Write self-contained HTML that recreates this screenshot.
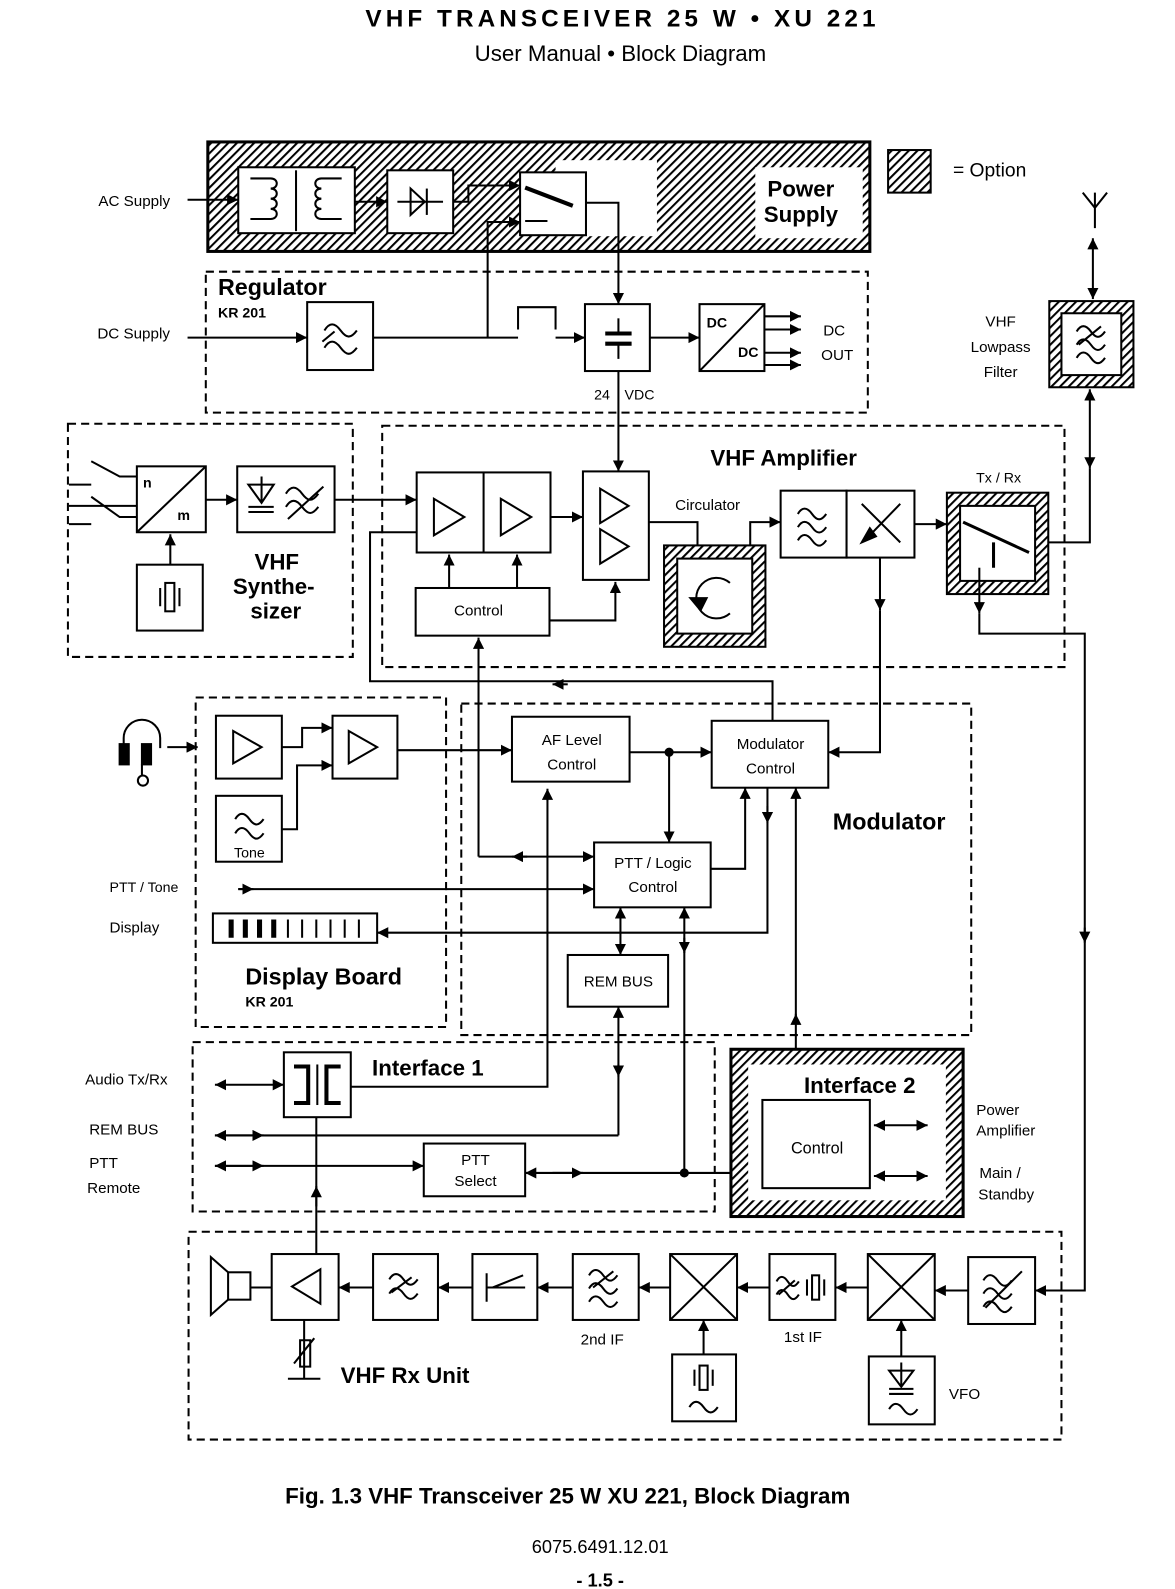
<!DOCTYPE html>
<html><head><meta charset="utf-8"><style>
html,body{margin:0;padding:0;background:#fff;}
svg{display:block;}
text{font-family:"Liberation Sans",sans-serif;fill:#000;}
.b{font-weight:bold;}
</style></head><body>
<svg width="1175" height="1589" viewBox="0 0 1159 1567.4" preserveAspectRatio="none" xmlns="http://www.w3.org/2000/svg">
<defs>
<pattern id="h" width="6" height="6" patternUnits="userSpaceOnUse" patternTransform="rotate(45)">
<rect width="6" height="6" fill="#fff"/><rect width="2" height="6" fill="#000"/></pattern>
<marker id="a" viewBox="0 0 10 10" refX="10" refY="5" markerWidth="11" markerHeight="11" markerUnits="userSpaceOnUse" orient="auto-start-reverse"><path d="M0,0L10,5L0,10z" fill="#000"/></marker>
</defs>
<g stroke="#000" stroke-width="2" fill="none">
<!-- Power supply -->
<rect x="205" y="140" width="653" height="108" fill="url(#h)" stroke-width="3"/>
<rect x="548" y="158" width="100" height="75" fill="#fff" stroke="none"/>
<rect x="745" y="165" width="106" height="70" fill="#fff" stroke="none"/>
<rect x="235" y="165" width="115" height="65" fill="#fff"/>
<line x1="292" y1="168" x2="292" y2="228"/>
<path d="M247,176h20c8,0 8,10 0,10c8,0 8,10 0,10c8,0 8,10 0,10c8,0 8,10 0,10h-20"/>
<path d="M337,176h-20c-8,0 -8,10 0,10c-8,0 -8,10 0,10c-8,0 -8,10 0,10c-8,0 -8,10 0,10h20"/>
<rect x="382" y="168" width="65" height="62" fill="#fff"/>
<line x1="392" y1="199" x2="437" y2="199"/><path d="M405,186v26l14,-13z"/><line x1="421" y1="186" x2="421" y2="212"/>
<rect x="513" y="170" width="65" height="62" fill="#fff"/>
<line x1="518" y1="185" x2="565" y2="203" stroke-width="4"/>
<line x1="518" y1="218" x2="540" y2="218"/>
<rect x="876" y="148" width="42" height="42" fill="url(#h)"/>
<!-- Regulator -->
<rect x="203" y="268" width="653" height="139" stroke-dasharray="8,5"/>
<rect x="303" y="298" width="65" height="67"/>
<path d="M320,326c5,-8 10,-8 16,0s10,8 16,0M318,337l12,-10M320,343c5,-8 10,-8 16,0s10,8 16,0"/>
<rect x="577" y="300" width="64" height="66"/>
<line x1="597" y1="329" x2="623" y2="329" stroke-width="4"/><line x1="597" y1="339" x2="623" y2="339" stroke-width="4"/>
<line x1="610" y1="314" x2="610" y2="329"/><line x1="610" y1="339" x2="610" y2="354"/>
<rect x="690" y="300" width="64" height="66"/><line x1="690" y1="366" x2="754" y2="300"/>
<path d="M185,197H235" marker-end="url(#a)"/>
<path d="M350,199H382" marker-end="url(#a)"/>
<path d="M447,199H462V183H513" marker-end="url(#a)"/>
<path d="M481,333V219H513" marker-end="url(#a)"/>
<path d="M578,200H610V300" marker-end="url(#a)"/>
<path d="M185,333H303" marker-end="url(#a)"/>
<path d="M368,333H511"/>
<path d="M511,325V303H548V325"/>
<path d="M548,333H577" marker-end="url(#a)"/>
<path d="M641,333H690" marker-end="url(#a)"/>
<path d="M754,312H790" marker-end="url(#a)"/><path d="M754,325H790" marker-end="url(#a)"/>
<path d="M754,348H790" marker-end="url(#a)"/><path d="M754,360H790" marker-end="url(#a)"/>
<path d="M610,366V465" marker-end="url(#a)"/>
<!-- antenna / lowpass -->
<path d="M1068,190L1080,205L1092,190M1080,190V225"/>
<path d="M1078,235V295" marker-start="url(#a)" marker-end="url(#a)"/>
<rect x="1035" y="297" width="83" height="85" fill="url(#h)"/><rect x="1047" y="309" width="59" height="61" fill="#fff"/>
<path d="M1062,327c4,-7 9,-7 14,0s9,7 14,0M1062,340c4,-7 9,-7 14,0s9,7 14,0M1062,353c4,-7 9,-7 14,0s9,7 14,0M1064,340l22,-18"/>
<path d="M1075,384V462" marker-start="url(#a)" marker-end="url(#a)"/>
<path d="M1075,462V535H1034"/>
<!-- Synth -->
<rect x="67" y="418" width="281" height="230" stroke-dasharray="8,5"/>
<rect x="135" y="460" width="68" height="65"/><line x1="135" y1="525" x2="203" y2="460"/>
<path d="M68,478H90M90,455L118,470H135M68,499H90L118,499H135M68,517H90M90,490L118,510H135" stroke-width="2"/>
<rect x="234" y="460" width="96" height="65"/>
<path d="M245,478h25l-12,18z M245,500h25 M245,505h25 M258,470v26"/>
<path d="M282,487c5,-8 10,-8 16,0s10,8 16,0M282,500c5,-8 10,-8 16,0s10,8 16,0M284,512l35,-32"/>
<rect x="135" y="557" width="65" height="65"/>
<rect x="163" y="575" width="9" height="28"/><line x1="158" y1="580" x2="158" y2="598"/><line x1="177" y1="580" x2="177" y2="598"/>
<path d="M168,557V527" marker-end="url(#a)"/>
<path d="M203,493H234" marker-end="url(#a)"/>
<path d="M330,493H411" marker-end="url(#a)"/>
<!-- VHF Amp -->
<rect x="377" y="420" width="673" height="238" stroke-dasharray="8,5"/>
<rect x="411" y="466" width="132" height="79"/><line x1="477" y1="466" x2="477" y2="545"/>
<path d="M428,492v36l30,-18z M494,492v36l30,-18z"/>
<rect x="575" y="465" width="65" height="107"/>
<path d="M592,482v34l28,-17z M592,522v34l28,-17z"/>
<rect x="410" y="580" width="132" height="47"/>
<path d="M443,580V547" marker-end="url(#a)"/><path d="M510,580V547" marker-end="url(#a)"/>
<path d="M542,612H607V574" marker-end="url(#a)"/>
<path d="M543,510H575" marker-end="url(#a)"/>
<path d="M411,525H365V672H762V711"/>
<path d="M560,675H545" marker-end="url(#a)"/>
<rect x="655" y="538" width="100" height="100" fill="url(#h)"/><rect x="668" y="551" width="74" height="74" fill="#fff"/>
<path d="M720,605a20,20 0 1 1 0,-30"/><path d="M681,590l10,12l6,-12z" fill="#000"/>
<path d="M640,515H688V538"/>
<path d="M740,538V515H770" marker-end="url(#a)"/>
<rect x="770" y="484" width="65" height="66"/>
<path d="M787,507c4,-7 9,-7 14,0s9,7 14,0M787,520c4,-7 9,-7 14,0s9,7 14,0M787,533c4,-7 9,-7 14,0s9,7 14,0"/>
<rect x="835" y="484" width="67" height="66"/>
<path d="M850,497L888,535M888,497L856,530"/><path d="M850,535l8,-14l6,8z" fill="#000"/>
<path d="M902,517H934" marker-end="url(#a)"/>
<path d="M868,550V602" marker-end="url(#a)"/>
<path d="M868,602V742H817" marker-end="url(#a)"/>
<rect x="934" y="486" width="100" height="100" fill="url(#h)"/><rect x="947" y="499" width="74" height="74" fill="#fff"/>
<path d="M950,515L1015,545M980,535V560" stroke-width="3"/>
<path d="M966,560V605" marker-end="url(#a)"/>
<path d="M966,605V625H1070V930"/>
<path d="M1070,915V930" marker-end="url(#a)"/>
<path d="M1070,930V1273H1021" marker-end="url(#a)"/>
<!-- Audio/Display -->
<rect x="193" y="688" width="247" height="325" stroke-dasharray="8,5"/>
<rect x="213" y="706" width="65" height="62"/><path d="M230,721v32l28,-16z"/>
<rect x="328" y="706" width="64" height="62"/><path d="M344,721v32l28,-16z"/>
<rect x="213" y="785" width="65" height="65"/>
<path d="M232,808c4,-7 9,-7 14,0s9,7 14,0M232,822c4,-7 9,-7 14,0s9,7 14,0"/>
<path d="M122,738v-10a18,18 0 0 1 36,0v10"/>
<rect x="118" y="734" width="9" height="20" fill="#000"/><rect x="140" y="734" width="9" height="20" fill="#000"/>
<path d="M140,754V765"/><circle cx="141" cy="770" r="5"/>
<path d="M165,737H195" marker-end="url(#a)"/>
<path d="M278,737H298V718H328" marker-end="url(#a)"/>
<path d="M278,818H293V755H328" marker-end="url(#a)"/>
<path d="M392,740H505" marker-end="url(#a)"/>
<path d="M235,877H586" marker-end="url(#a)"/>
<path d="M235,877H250" marker-end="url(#a)"/>
<rect x="210" y="901" width="162" height="29"/>
<g stroke-width="5"><line x1="228" y1="907" x2="228" y2="925"/><line x1="242" y1="907" x2="242" y2="925"/><line x1="256" y1="907" x2="256" y2="925"/><line x1="270" y1="907" x2="270" y2="925"/></g>
<g stroke-width="2"><line x1="284" y1="907" x2="284" y2="925"/><line x1="298" y1="907" x2="298" y2="925"/><line x1="312" y1="907" x2="312" y2="925"/><line x1="326" y1="907" x2="326" y2="925"/><line x1="340" y1="907" x2="340" y2="925"/><line x1="354" y1="907" x2="354" y2="925"/></g>
<!-- Modulator -->
<rect x="455" y="694" width="503" height="327" stroke-dasharray="8,5"/>
<rect x="505" y="707" width="116" height="64"/>
<rect x="702" y="711" width="115" height="66"/>
<rect x="586" y="831" width="115" height="64"/>
<rect x="560" y="942" width="99" height="51"/>
<path d="M472,629V845" marker-start="url(#a)"/>
<path d="M472,845H586" marker-end="url(#a)"/>
<path d="M520,845H505" marker-end="url(#a)"/>
<path d="M621,742H702" marker-end="url(#a)"/>
<circle cx="660" cy="742" r="3.5" fill="#000"/>
<path d="M660,742V831" marker-end="url(#a)"/>
<path d="M701,857H735V777" marker-end="url(#a)"/>
<path d="M757,777V920H372" marker-end="url(#a)"/>
<path d="M757,795V812" marker-end="url(#a)"/>
<path d="M785,777V1085" marker-start="url(#a)" marker-end="url(#a)"/>
<path d="M785,1010V1000" marker-end="url(#a)"/>
<path d="M612,895V942" marker-start="url(#a)" marker-end="url(#a)"/>
<path d="M675,895V1157" marker-start="url(#a)"/>
<path d="M675,925V940" marker-end="url(#a)"/>
<path d="M610,993V1120" marker-start="url(#a)"/>
<path d="M610,1050V1062" marker-end="url(#a)"/>
<path d="M540,780V1072H346"/>
<path d="M540,790V778" marker-end="url(#a)"/>
<!-- Interface 1 -->
<rect x="190" y="1028" width="515" height="167" stroke-dasharray="8,5"/>
<rect x="280" y="1038" width="66" height="64"/>
<path d="M290,1052h14v36h-14M336,1052h-14v36h14" stroke-width="4"/><line x1="313" y1="1050" x2="313" y2="1090"/>
<rect x="418" y="1128" width="100" height="52"/>
<path d="M212,1070H280" marker-start="url(#a)" marker-end="url(#a)"/>
<path d="M212,1120H610" marker-start="url(#a)"/>
<path d="M212,1120H260" marker-end="url(#a)"/>
<path d="M212,1150H418" marker-start="url(#a)" marker-end="url(#a)"/>
<path d="M212,1150H260" marker-end="url(#a)"/>
<path d="M518,1157H752" marker-start="url(#a)"/>
<path d="M545,1157H575" marker-end="url(#a)"/>
<circle cx="675" cy="1157" r="3.5" fill="#000"/>
<!-- Interface 2 -->
<rect x="721" y="1035" width="229" height="165" fill="url(#h)" stroke-width="3"/>
<rect x="738" y="1050" width="195" height="134" fill="#fff" stroke="none"/>
<rect x="752" y="1085" width="106" height="87" fill="#fff"/>
<path d="M862,1110H915" marker-start="url(#a)" marker-end="url(#a)"/>
<path d="M862,1160H915" marker-start="url(#a)" marker-end="url(#a)"/>
<!-- Rx -->
<rect x="186" y="1215" width="861" height="205" stroke-dasharray="8,5"/>
<path d="M312,1102V1237"/><path d="M312,1190V1170" marker-end="url(#a)"/>
<rect x="225" y="1255" width="22" height="27"/><path d="M225,1255L208,1240V1297L225,1282"/>
<rect x="268" y="1237" width="66" height="65"/><path d="M316,1252v34l-28,-17z"/>
<rect x="368" y="1237" width="64" height="65"/>
<path d="M384,1262c4,-7 9,-7 14,0s9,7 14,0M384,1276c4,-7 9,-7 14,0s9,7 14,0M386,1275l20,-15"/>
<rect x="466" y="1237" width="64" height="65"/><path d="M480,1256v28M480,1270h38M486,1270l30,-12"/>
<rect x="565" y="1237" width="65" height="65"/>
<path d="M581,1258c4,-7 9,-7 14,0s9,7 14,0M581,1271c4,-7 9,-7 14,0s9,7 14,0M581,1284c4,-7 9,-7 14,0s9,7 14,0M585,1270l20,-16"/>
<rect x="661" y="1237" width="66" height="65"/><path d="M661,1237L727,1302M727,1237L661,1302"/>
<rect x="759" y="1237" width="65" height="65"/>
<path d="M766,1264c3,-6 7,-6 11,0s7,6 11,0M766,1277c3,-6 7,-6 11,0s7,6 11,0M768,1277l16,-14"/><rect x="801" y="1258" width="7" height="24"/><line x1="796" y1="1262" x2="796" y2="1278"/><line x1="813" y1="1262" x2="813" y2="1278"/>
<rect x="856" y="1237" width="66" height="65"/><path d="M856,1237L922,1302M922,1237L856,1302"/>
<rect x="955" y="1240" width="66" height="66"/>
<path d="M970,1263c4,-7 9,-7 14,0s9,7 14,0M970,1276c4,-7 9,-7 14,0s9,7 14,0M970,1289c4,-7 9,-7 14,0s9,7 14,0M972,1290l36,-36"/>
<path d="M955,1273H922" marker-end="url(#a)"/>
<path d="M856,1270H824" marker-end="url(#a)"/>
<path d="M759,1270H727" marker-end="url(#a)"/>
<path d="M661,1270H630" marker-end="url(#a)"/>
<path d="M565,1270H530" marker-end="url(#a)"/>
<path d="M466,1270H432" marker-end="url(#a)"/>
<path d="M368,1270H334" marker-end="url(#a)"/>
<path d="M268,1270H247"/>
<rect x="663" y="1336" width="63" height="66"/>
<rect x="690" y="1347" width="8" height="24"/><line x1="685" y1="1351" x2="685" y2="1367"/><line x1="703" y1="1351" x2="703" y2="1367"/>
<path d="M680,1388c4,-7 9,-7 14,0s9,7 14,0"/>
<path d="M694,1336V1302" marker-end="url(#a)"/>
<rect x="857" y="1338" width="65" height="67"/>
<path d="M877,1352h24l-12,16z M877,1370h24 M877,1375h24 M889,1344v24"/>
<path d="M877,1390c4,-7 9,-7 14,0s9,7 14,0"/>
<path d="M889,1338V1302" marker-end="url(#a)"/>
<path d="M300,1302V1360M284,1360h32M290,1345l20,-25M296,1322v26h10v-26z"/>
</g>
<!-- text -->
<text x="614" y="26" text-anchor="middle" class="b" font-size="24" letter-spacing="4">VHF TRANSCEIVER 25 W • XU 221</text>
<text x="612" y="60" text-anchor="middle" font-size="22">User Manual • Block Diagram</text>
<text x="790" y="194" text-anchor="middle" class="b" font-size="22">Power</text>
<text x="790" y="219" text-anchor="middle" class="b" font-size="22">Supply</text>
<text x="940" y="174" font-size="19">= Option</text>
<text x="97" y="203" font-size="15">AC Supply</text>
<text x="96" y="334" font-size="15">DC Supply</text>
<text x="215" y="291" class="b" font-size="23">Regulator</text>
<text x="215" y="313" class="b" font-size="14">KR 201</text>
<text x="697" y="323" class="b" font-size="14">DC</text>
<text x="728" y="352" class="b" font-size="14">DC</text>
<text x="812" y="331" font-size="15">DC</text>
<text x="810" y="355" font-size="15">OUT</text>
<text x="586" y="394" font-size="14">24</text><text x="616" y="394" font-size="14">VDC</text>
<text x="987" y="322" text-anchor="middle" font-size="15">VHF</text>
<text x="987" y="347" text-anchor="middle" font-size="15">Lowpass</text>
<text x="987" y="372" text-anchor="middle" font-size="15">Filter</text>
<text x="985" y="476" text-anchor="middle" font-size="14">Tx / Rx</text>
<text x="141" y="481" class="b" font-size="14">n</text>
<text x="175" y="513" class="b" font-size="14">m</text>
<text x="273" y="562" text-anchor="middle" class="b" font-size="22">VHF</text>
<text x="270" y="586" text-anchor="middle" class="b" font-size="22">Synthe-</text>
<text x="272" y="610" text-anchor="middle" class="b" font-size="22">sizer</text>
<text x="773" y="459" text-anchor="middle" class="b" font-size="22">VHF Amplifier</text>
<text x="698" y="503" text-anchor="middle" font-size="15">Circulator</text>
<text x="472" y="607" text-anchor="middle" font-size="15">Control</text>
<text x="564" y="735" text-anchor="middle" font-size="15">AF Level</text>
<text x="564" y="759" text-anchor="middle" font-size="15">Control</text>
<text x="760" y="739" text-anchor="middle" font-size="15">Modulator</text>
<text x="760" y="763" text-anchor="middle" font-size="15">Control</text>
<text x="644" y="856" text-anchor="middle" font-size="15">PTT / Logic</text>
<text x="644" y="880" text-anchor="middle" font-size="15">Control</text>
<text x="610" y="973" text-anchor="middle" font-size="15">REM BUS</text>
<text x="877" y="818" text-anchor="middle" class="b" font-size="23">Modulator</text>
<text x="246" y="846" text-anchor="middle" font-size="14">Tone</text>
<text x="108" y="880" font-size="14">PTT / Tone</text>
<text x="108" y="920" font-size="15">Display</text>
<text x="242" y="971" class="b" font-size="23">Display Board</text>
<text x="242" y="993" class="b" font-size="14">KR 201</text>
<text x="367" y="1061" class="b" font-size="22">Interface 1</text>
<text x="84" y="1070" font-size="15">Audio Tx/Rx</text>
<text x="88" y="1119" font-size="15">REM BUS</text>
<text x="88" y="1152" font-size="15">PTT</text>
<text x="86" y="1177" font-size="15">Remote</text>
<text x="469" y="1149" text-anchor="middle" font-size="15">PTT</text>
<text x="469" y="1170" text-anchor="middle" font-size="15">Select</text>
<text x="793" y="1078" class="b" font-size="22">Interface  2</text>
<text x="806" y="1138" text-anchor="middle" font-size="16">Control</text>
<text x="963" y="1100" font-size="15">Power</text>
<text x="963" y="1120" font-size="15">Amplifier</text>
<text x="966" y="1162" font-size="15">Main /</text>
<text x="965" y="1183" font-size="15">Standby</text>
<text x="594" y="1326" text-anchor="middle" font-size="15">2nd IF</text>
<text x="792" y="1324" text-anchor="middle" font-size="15">1st IF</text>
<text x="936" y="1380" font-size="15">VFO</text>
<text x="336" y="1364" class="b" font-size="22">VHF Rx Unit</text>
<text x="560" y="1483" text-anchor="middle" class="b" font-size="22">Fig. 1.3   VHF Transceiver 25 W  XU 221, Block Diagram</text>
<text x="592" y="1532" text-anchor="middle" font-size="18">6075.6491.12.01</text>
<text x="592" y="1565" text-anchor="middle" class="b" font-size="18">- 1.5 -</text>
</svg>
</body></html>
